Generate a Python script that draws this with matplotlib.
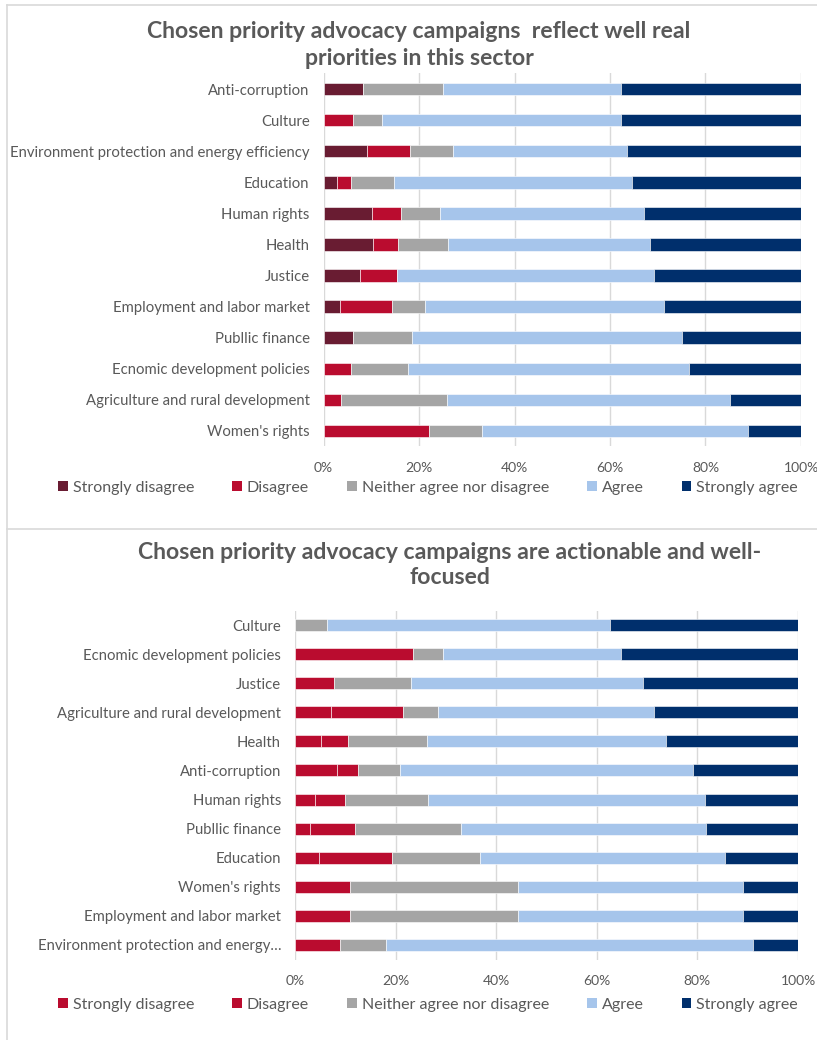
import matplotlib.pyplot as plt
import matplotlib.patches as patches
import numpy as np

plt.rcParams['font.family'] = ['Lato', 'DejaVu Sans']

W, H = 817, 1040
CINZA_TXT = '#595959'

NIVEIS = ['Strongly disagree', 'Disagree', 'Neither agree nor disagree',
          'Agree', 'Strongly agree']

# ---- painel 1: prioridades reais (ordem de cima para baixo) ----
CAT_1 = ['Anti-corruption', 'Culture',
         'Environment protection and energy efficiency', 'Education',
         'Human rights', 'Health', 'Justice', 'Employment and labor market',
         'Publlic finance', 'Ecnomic development policies',
         'Agriculture and rural development', "Women's rights"]
SD_1 = [8.2, 0.0, 9.1, 2.8, 10.2, 10.4, 7.7, 3.5, 6.1, 0.0, 0.0, 0.0]
D_1 = [0.0, 6.1, 9.0, 2.9, 6.0, 5.2, 7.6, 10.8, 0.0, 5.7, 3.6, 22.1]
N_1 = [16.8, 6.1, 9.0, 9.0, 8.2, 10.4, 0.0, 6.9, 12.4, 12.0, 22.2, 11.1]
A_1 = [37.4, 50.2, 36.4, 50.0, 42.8, 42.4, 53.9, 50.2, 56.6, 58.8, 59.4, 55.6]
SA_1 = [37.6, 37.6, 36.5, 35.3, 32.8, 31.6, 30.8, 28.6, 24.9, 23.5, 14.8, 11.2]

# ---- painel 2: campanhas acionáveis ----
CAT_2 = ['Culture', 'Ecnomic development policies', 'Justice',
         'Agriculture and rural development', 'Health', 'Anti-corruption',
         'Human rights', 'Publlic finance', 'Education', "Women's rights",
         'Employment and labor market', 'Environment protection and energy\u2026']
SD_2 = [0.0, 0.0, 0.0, 7.1, 5.1, 8.4, 4.0, 3.0, 4.7, 0.0, 0.0, 0.0]
D_2 = [0.0, 23.4, 7.7, 14.3, 5.4, 4.1, 6.0, 9.0, 14.6, 11.0, 11.0, 9.0]
N_2 = [6.3, 6.0, 15.4, 7.0, 15.8, 8.4, 16.4, 21.1, 17.5, 33.4, 33.4, 9.1]
A_2 = [56.3, 35.4, 46.1, 43.0, 47.4, 58.3, 55.1, 48.7, 48.7, 44.6, 44.6, 72.9]
SA_2 = [37.4, 35.2, 30.8, 28.6, 26.3, 20.8, 18.5, 18.2, 14.5, 11.0, 11.0, 9.0]

CORES_1 = ['#691C32', '#BA0C2F', '#A5A5A5', '#A6C5EB', '#002F6C']
CORES_2 = ['#BA0C2F', '#BA0C2F', '#A5A5A5', '#A6C5EB', '#002F6C']


def px_ax(fig, x0, y0, x1, y1):
    """Cria eixos a partir de coordenadas em pixels (origem no topo)."""
    return fig.add_axes([x0 / W, 1 - y1 / H, (x1 - x0) / W, (y1 - y0) / H])


def desenhar_painel(ax, categorias, series, cores, altura):
    y = np.arange(len(categorias))
    esquerda = np.zeros(len(categorias))
    for vals, cor, nome in zip(series, cores, NIVEIS):
        vals = np.array(vals)
        ax.barh(y, vals, left=esquerda, height=altura, color=cor,
                edgecolor='white', linewidth=0.4, label=nome, zorder=3)
        esquerda += vals
    ax.set_ylim(len(categorias) - 0.5, -0.5)
    ax.set_xlim(0, 100)
    ax.set_yticks(y)
    ax.set_yticklabels(categorias, fontsize=10.7, color=CINZA_TXT)
    ax.set_xticks(np.arange(0, 101, 20))
    ax.set_xticklabels([f'{v}%' for v in range(0, 101, 20)],
                       fontsize=10, color=CINZA_TXT)
    ax.tick_params(length=0, axis='y', pad=10)
    ax.tick_params(length=0, axis='x', pad=11)
    ax.grid(axis='x', color='#D9D9D9', linewidth=1, zorder=0)
    for s in ax.spines.values():
        s.set_visible(False)


fig = plt.figure(figsize=(W / 100, H / 100), dpi=100)

# moldura leve em volta dos dois gráficos
for coords in [[(7, 5), (817, 5)], [(7, 5), (7, 1040)], [(7, 529), (817, 529)]]:
    xs = [c[0] / W for c in coords]
    ys = [1 - c[1] / H for c in coords]
    fig.add_artist(plt.Line2D(xs, ys, color='#D9D9D9', linewidth=1.2))

ax1 = px_ax(fig, 323.5, 73.5, 801, 446.5)
desenhar_painel(ax1, CAT_1, [SD_1, D_1, N_1, A_1, SA_1], CORES_1, 0.4)
fig.text(419 / W, 1 - 45 / H,
         'Chosen priority advocacy campaigns  reflect well real\n'
         'priorities in this sector',
         ha='center', va='center', fontsize=16.6, fontweight='bold',
         color=CINZA_TXT, linespacing=1.32)

ax2 = px_ax(fig, 295, 610.5, 798, 959.5)
desenhar_painel(ax2, CAT_2, [SD_2, D_2, N_2, A_2, SA_2], CORES_2, 0.41)
fig.text(450 / W, 1 - 565 / H,
         'Chosen priority advocacy campaigns are actionable and well-\n'
         'focused',
         ha='center', va='center', fontsize=16.6, fontweight='bold',
         color=CINZA_TXT, linespacing=1.24)

for ax, cores, ycen in [(ax1, CORES_1, 488), (ax2, CORES_2, 1005)]:
    alças = [patches.Rectangle((0, 0), 1, 1, facecolor=c, edgecolor='none')
             for c in cores]
    fig.legend(alças, NIVEIS, loc='center', bbox_to_anchor=(428 / W, 1 - ycen / H),
               ncol=5, frameon=False, fontsize=11.5, handlelength=0.6,
               handleheight=0.6, handletextpad=0.3, columnspacing=2.4,
               labelcolor=CINZA_TXT)

fig.savefig('out.png', dpi=100)
